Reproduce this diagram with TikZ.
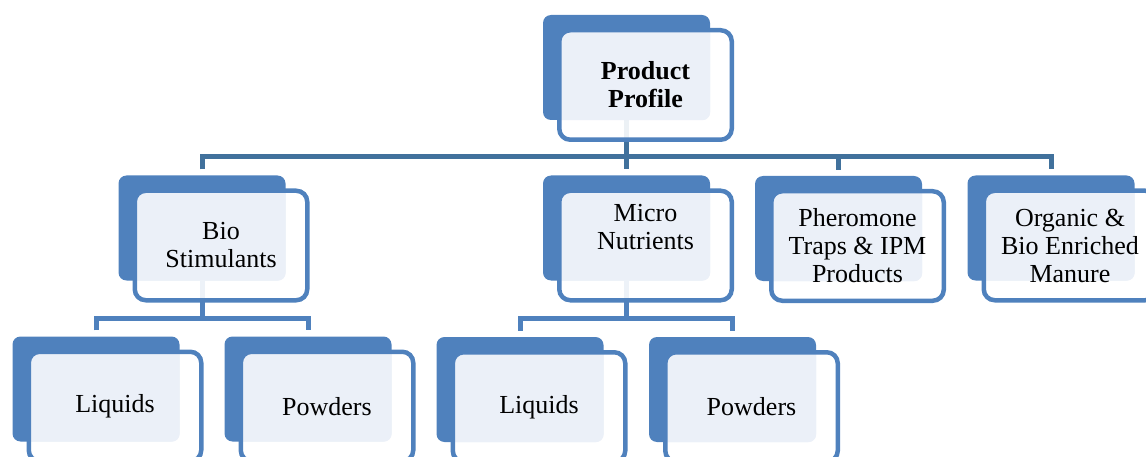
\documentclass[tikz,border=0pt]{standalone}
\usepackage{fontspec}
\setmainfont{Liberation Serif}
\usetikzlibrary{positioning}
\definecolor{bleu}{HTML}{4F81BD}
\definecolor{bleufonce}{HTML}{41719C}
\definecolor{bleupale}{HTML}{EBF0F8}
\tikzstyle{dos}=[rectangle,rounded corners=8pt,fill=bleu,inner sep=0pt,minimum width=167pt,minimum height=105pt]
\tikzstyle{barre}=[draw=bleufonce,line width=5pt]
\tikzstyle{sousbarre}=[draw=bleu,line width=5pt]
\tikzset{face/.style={rectangle,rounded corners=11pt,draw=bleu,line width=4.5pt,
  fill=white,fill opacity=0.9,text opacity=1,inner sep=0pt,
  minimum width=172.5pt,minimum height=109.5pt,align=center,
  font=\fontsize{26}{28}\selectfont,
  path picture={\fill[bleupale,fill opacity=1,rounded corners=8pt] (#1-b.south west) rectangle (#1-b.north east);}}}

\begin{document}
\begin{tikzpicture}[x=1pt,y=-1pt]
\clip (0,0) rectangle (1146,457);

\node[dos] (pp-b) at (626.5,67.5) {};
\node[dos] (bio-b) at (202,228) {};
\node[dos] (micro-b) at (626.5,228) {};
\node[dos] (phero-b) at (838.5,228.5) {};
\node[dos] (orga-b) at (1051,228) {};
\node[dos] (liqA-b) at (96,389) {};
\node[dos] (poudA-b) at (308,389) {};
\node[dos] (liqB-b) at (520,389.5) {};
\node[dos] (poudB-b) at (732.5,389.5) {};

\coordinate (niv1) at (0,157);
\coordinate (niv2) at (0,318);

\draw[barre] (pp-b.south) to (pp-b.south |- niv1);
\draw[barre] ([yshift=6pt]bio-b.north)--(bio-b.north |- niv1)--(orga-b.north |- niv1)--([yshift=6pt]orga-b.north);
\draw[barre] (micro-b.north |- niv1) to ([yshift=6pt]micro-b.north);
\draw[barre] (phero-b.north |- niv1) to ([yshift=6pt]phero-b.north);
\draw[sousbarre] (bio-b.south) to (bio-b.south |- niv2);
\draw[sousbarre] ([yshift=6pt]liqA-b.north)--(liqA-b.north |- niv2)--(poudA-b.north |- niv2)--([yshift=6pt]poudA-b.north);
\draw[sousbarre] (micro-b.south) to (micro-b.south |- niv2);
\draw[sousbarre] ([yshift=6pt]liqB-b.north)--(liqB-b.north |- niv2)--(poudB-b.north |- niv2)--([yshift=6pt]poudB-b.north);

\node[face=pp] (pp) at ([shift={(19,17.5)}]pp-b.center) {\textbf{Product}\\\textbf{Profile}};
\node[face=bio] (bio) at ([shift={(19,17.5)}]bio-b.center) {Bio\\Stimulants};
\node[face=micro] (micro) at ([shift={(19,17.5)}]micro-b.center) {Micro\\Nutrients\\\strut};
\node[face=phero] (phero) at ([shift={(19,17.5)}]phero-b.center) {Pheromone\\Traps \& IPM\\Products};
\node[face=orga] (orga) at ([shift={(19,17.5)}]orga-b.center) {Organic \&\\Bio Enriched\\Manure};
\node[face=liqA] (liqA) at ([shift={(19,17.5)}]liqA-b.center) {Liquids};
\node[face=poudA] (poudA) at ([shift={(19,17.5)}]poudA-b.center) {Powders};
\node[face=liqB] (liqB) at ([shift={(19,17.5)}]liqB-b.center) {Liquids};
\node[face=poudB] (poudB) at ([shift={(19,17.5)}]poudB-b.center) {Powders};

\end{tikzpicture}
\end{document}
